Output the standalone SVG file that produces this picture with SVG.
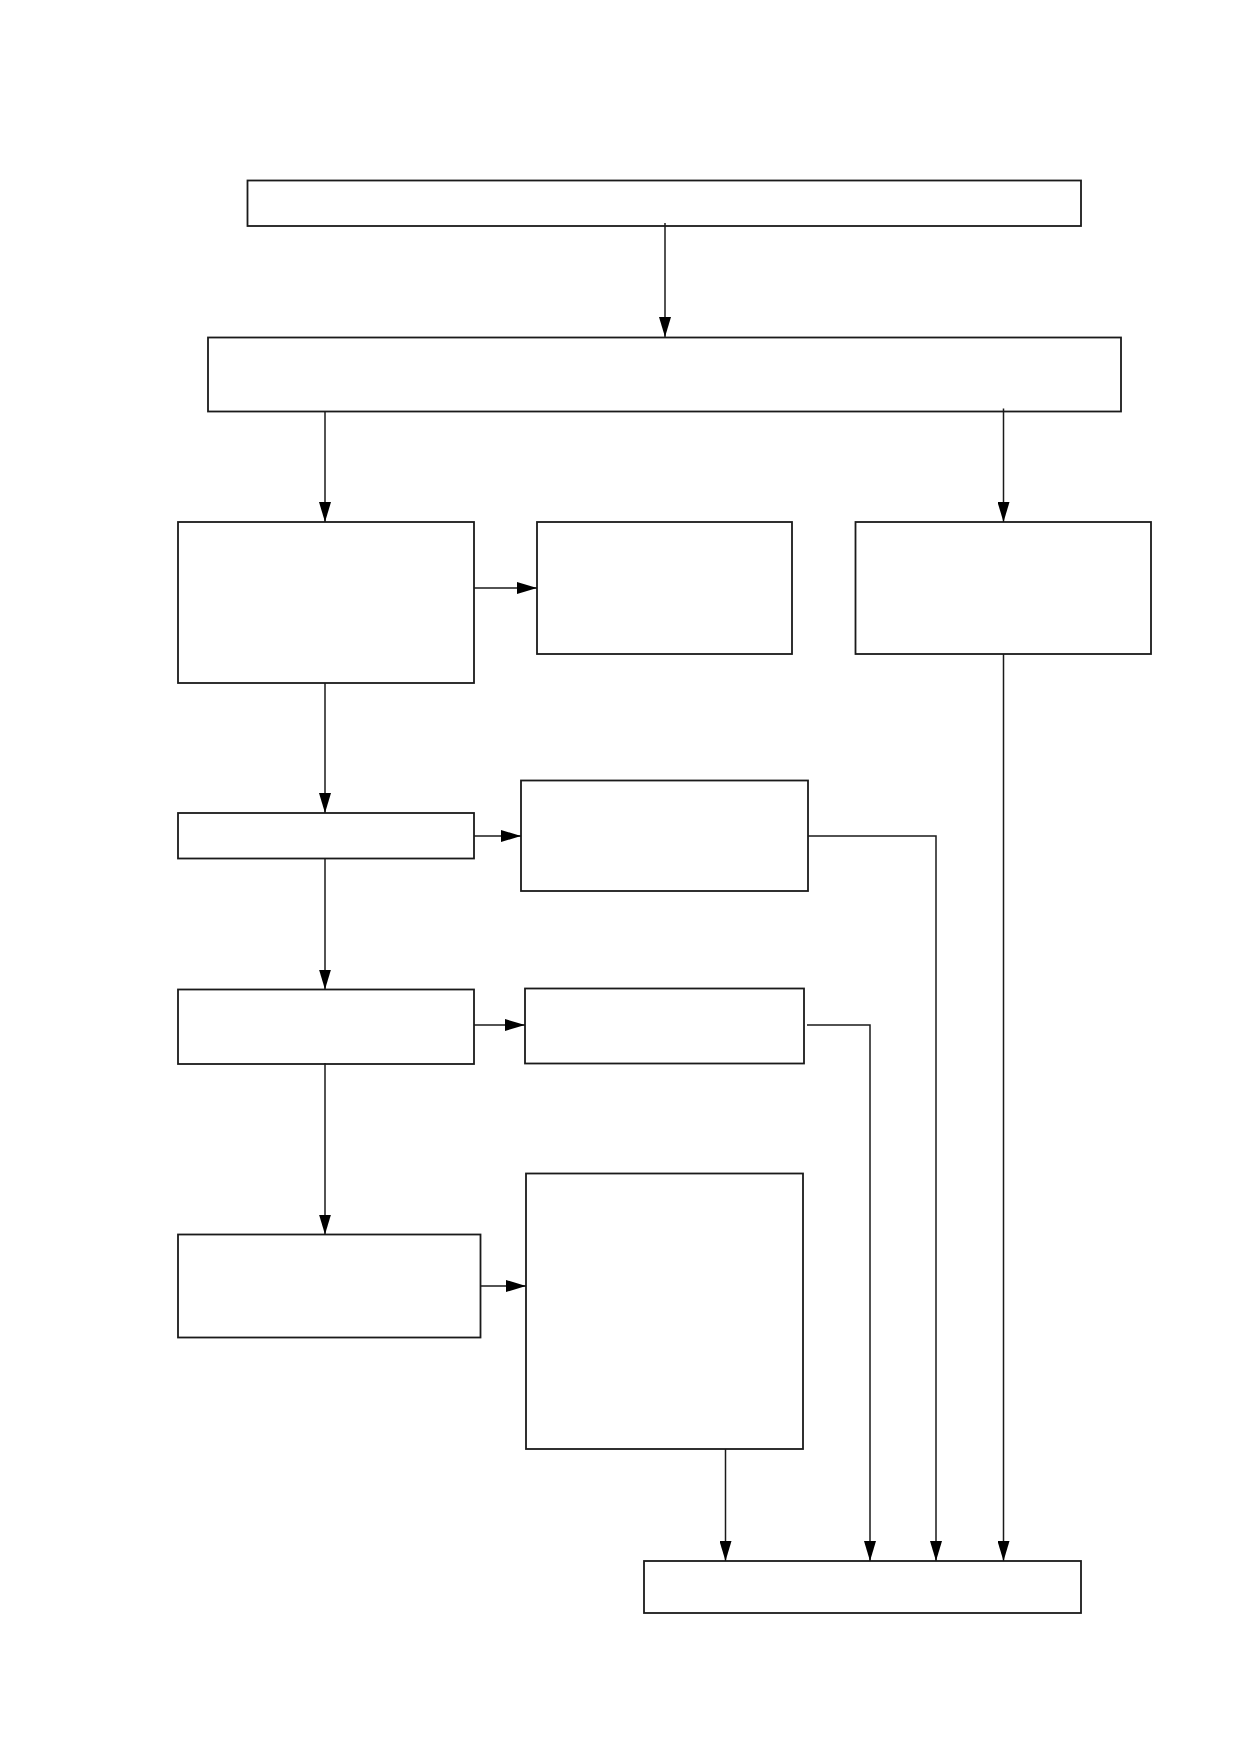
<svg xmlns="http://www.w3.org/2000/svg" width="1239" height="1752" viewBox="0 0 1239 1752">
<style>
.n{fill:#fff;stroke:#1a1a1a;stroke-width:1.8}
.c{fill:none;stroke:#1a1a1a;stroke-width:1.5}
</style>
<defs>
<marker id="ah" markerUnits="userSpaceOnUse" markerWidth="20" markerHeight="12" refX="20" refY="6" orient="auto">
<path d="M0,0 L20,6 L0,12 z" fill="#000"/>
</marker>
</defs>
<rect width="1239" height="1752" fill="#fff"/>
<g id="n1"><rect class="n" x="247.5" y="180.5" width="833.5" height="45.5"/></g>
<g id="n2"><rect class="n" x="208" y="337.5" width="913" height="74"/></g>
<g id="n3"><rect class="n" x="178" y="522" width="296" height="161"/></g>
<g id="n4"><rect class="n" x="537" y="522" width="255" height="132"/></g>
<g id="n5"><rect class="n" x="855.5" y="522" width="295.5" height="132"/></g>
<g id="n6"><rect class="n" x="178" y="813" width="296" height="45.5"/></g>
<g id="n7"><rect class="n" x="521" y="780.5" width="287" height="110.5"/></g>
<g id="n8"><rect class="n" x="178" y="989.5" width="296" height="74.5"/></g>
<g id="n9"><rect class="n" x="525" y="988.5" width="279" height="75"/></g>
<g id="n10"><rect class="n" x="178" y="1234.5" width="302.5" height="103"/></g>
<g id="n11"><rect class="n" x="526" y="1173.5" width="277" height="275.5"/></g>
<g id="n12"><rect class="n" x="644" y="1561" width="437" height="52"/></g>
<g id="connectors">
<path class="c" d="M665,223 V337" marker-end="url(#ah)"/>
<path class="c" d="M325,411.5 V522" marker-end="url(#ah)"/>
<path class="c" d="M1003.5,408.5 V522" marker-end="url(#ah)"/>
<path class="c" d="M474,588 H537" marker-end="url(#ah)"/>
<path class="c" d="M325,683 V813" marker-end="url(#ah)"/>
<path class="c" d="M474,836 H521" marker-end="url(#ah)"/>
<path class="c" d="M325,858.5 V989.5" marker-end="url(#ah)"/>
<path class="c" d="M474,1025 H525" marker-end="url(#ah)"/>
<path class="c" d="M325,1063 V1234.5" marker-end="url(#ah)"/>
<path class="c" d="M480.5,1286 H526" marker-end="url(#ah)"/>
<path class="c" d="M725.5,1449 V1561" marker-end="url(#ah)"/>
<path class="c" d="M808,836 H936 V1561" marker-end="url(#ah)"/>
<path class="c" d="M807,1025 H870 V1561" marker-end="url(#ah)"/>
<path class="c" d="M1003.5,654 V1561" marker-end="url(#ah)"/>
</g>
</svg>
